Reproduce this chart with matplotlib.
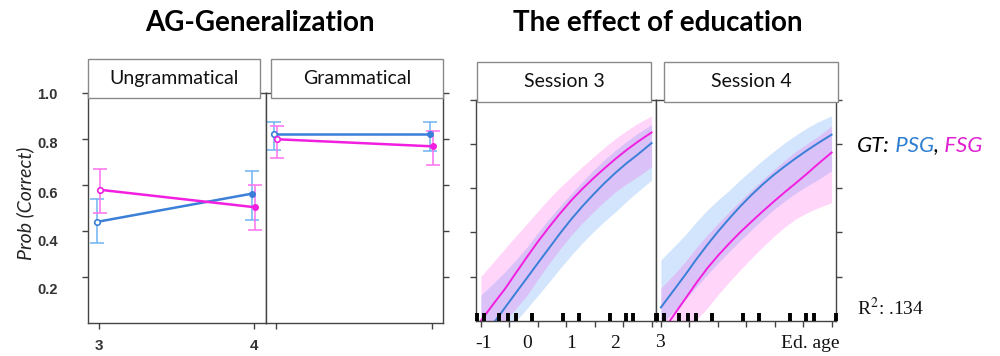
import numpy as np
import matplotlib.pyplot as plt
from matplotlib.patches import Rectangle
import matplotlib.transforms as mtransforms

plt.rcParams['mathtext.fontset'] = 'stix'

# AG-Generalization: predicted prob. correct per session (PSG = blue, FSG = magenta)
sessions = [3, 4]
ungr_psg = [0.44, 0.563]
ungr_psg_lo = [0.35, 0.45]
ungr_psg_hi = [0.54, 0.663]
ungr_fsg = [0.58, 0.504]
ungr_fsg_lo = [0.48, 0.405]
ungr_fsg_hi = [0.672, 0.602]
gram_psg = [0.824, 0.824]
gram_psg_lo = [0.751, 0.747]
gram_psg_hi = [0.877, 0.877]
gram_fsg = [0.80, 0.769]
gram_fsg_lo = [0.72, 0.688]
gram_fsg_hi = [0.857, 0.836]
prob_ticks = [0.2, 0.4, 0.6, 0.8, 1.0]
prob_labels = ['0.2', '0.4', '0.6', '0.8', '1.0']
prob_label_pos = [0.143, 0.354, 0.562, 0.78, 0.993]   # labels sit a bit off the ticks in the original

# effect of education, fitted curves + bands
edu = [-1.05, -0.75, -0.5, -0.25, 0, 0.25, 0.5, 0.75, 1.0, 1.25, 1.5, 1.75, 2.0, 2.25, 2.5, 2.82]
s3_psg = [-0.09, -0.008, 0.06, 0.128, 0.195, 0.263, 0.33, 0.397, 0.46, 0.518, 0.572, 0.623, 0.67, 0.713, 0.752, 0.805]
s3_psg_lo = [-0.25, -0.15, -0.06, 0.0, 0.056, 0.116, 0.176, 0.238, 0.297, 0.352, 0.403, 0.45, 0.493, 0.54, 0.584, 0.637]
s3_psg_hi = [0.116, 0.173, 0.222, 0.277, 0.335, 0.4, 0.463, 0.521, 0.576, 0.63, 0.682, 0.729, 0.772, 0.812, 0.848, 0.889]
s3_fsg = [0.0, 0.08, 0.145, 0.218, 0.29, 0.36, 0.425, 0.487, 0.545, 0.597, 0.645, 0.69, 0.733, 0.773, 0.81, 0.853]
s3_fsg_lo = [-0.12, -0.065, 0.0, 0.056, 0.116, 0.19, 0.26, 0.326, 0.388, 0.443, 0.493, 0.54, 0.584, 0.62, 0.652, 0.697]
s3_fsg_hi = [0.2, 0.27, 0.328, 0.385, 0.441, 0.498, 0.554, 0.605, 0.652, 0.698, 0.742, 0.785, 0.825, 0.861, 0.893, 0.928]
s4_psg = [0.06, 0.14, 0.207, 0.277, 0.343, 0.405, 0.463, 0.518, 0.569, 0.616, 0.659, 0.698, 0.735, 0.77, 0.803, 0.843]
s4_psg_lo = [-0.02, 0.043, 0.095, 0.152, 0.208, 0.262, 0.313, 0.363, 0.411, 0.458, 0.502, 0.541, 0.577, 0.609, 0.637, 0.679]
s4_psg_hi = [0.275, 0.336, 0.388, 0.447, 0.501, 0.548, 0.591, 0.638, 0.682, 0.726, 0.766, 0.805, 0.84, 0.872, 0.9, 0.928]
s4_fsg = [-0.06, 0.027, 0.098, 0.17, 0.237, 0.296, 0.35, 0.401, 0.448, 0.494, 0.538, 0.581, 0.622, 0.664, 0.708, 0.762]
s4_fsg_lo = [-0.2, -0.12, -0.05, 0.003, 0.056, 0.118, 0.176, 0.23, 0.282, 0.333, 0.38, 0.423, 0.46, 0.488, 0.51, 0.535]
s4_fsg_hi = [0.147, 0.21, 0.267, 0.33, 0.388, 0.442, 0.493, 0.543, 0.591, 0.638, 0.682, 0.725, 0.765, 0.8, 0.833, 0.882]
edu_rug = [-1.14, -0.99, -0.63, -0.44, -0.26, 0.1, 0.81, 1.17, 1.88, 2.24, 2.41, 2.93]
edu_ticks = [-1.05, -0.41, 0.24, 0.88, 1.53, 2.17, 2.82]
edu_label_pos = [-1, 0, 1, 2]
edu_labels = ['-1', '0', '1', '2']

BLUE = '#3a7fd8'
MAG = '#f21fe0'
BLUE_ERR = '#6fb3f2'
MAG_ERR = '#ff70f0'
SPINE = '#444444'
W, H = 1000, 356


def px_box(x0, y0, x1, y1):
    return [x0 / W, 1 - y1 / H, (x1 - x0) / W, (y1 - y0) / H]


fig = plt.figure(figsize=(10, 3.56), dpi=100)

ax_u = fig.add_axes(px_box(88, 93.3, 266, 323))
ax_g = fig.add_axes(px_box(266, 93.3, 443, 323))
ax_s3 = fig.add_axes(px_box(476, 100, 656, 320.7))
ax_s4 = fig.add_axes(px_box(656, 100, 836, 320.7))

for ax in [ax_u, ax_g, ax_s3, ax_s4]:
    for sp in ax.spines.values():
        sp.set_color(SPINE)
        sp.set_linewidth(1)
    ax.set_ylim(0, 1.0)
    ax.set_yticks(prob_ticks)
    ax.set_yticklabels([])
    ax.tick_params(which='both', direction='out', length=4.3, color=SPINE, width=1)


def group(ax, x, y, lo, hi, col, ecol, dx):
    xs = np.array(x) + dx
    y = np.array(y)
    err = [y - np.array(lo), np.array(hi) - y]
    ax.errorbar(xs, y, yerr=err, fmt='none', ecolor=ecol, capsize=5,
                elinewidth=1.1, capthick=1.1, zorder=2)
    ax.plot(xs, y, color=col, lw=1.8, zorder=3)
    ax.plot(xs[0], y[0], 'o', mfc='white', mec=col, ms=4, mew=1.2, zorder=4)
    ax.plot(xs[1], y[1], 'o', mfc=col, mec=col, ms=4, zorder=4)


group(ax_u, sessions, ungr_psg, ungr_psg_lo, ungr_psg_hi, BLUE, BLUE_ERR, -0.015)
group(ax_u, sessions, ungr_fsg, ungr_fsg_lo, ungr_fsg_hi, MAG, MAG_ERR, 0.005)
group(ax_g, sessions, gram_psg, gram_psg_lo, gram_psg_hi, BLUE, BLUE_ERR, -0.015)
group(ax_g, sessions, gram_fsg, gram_fsg_lo, gram_fsg_hi, MAG, MAG_ERR, 0.005)

ax_u.set_xlim(2.929, 4.077)
ax_g.set_xlim(2.936, 4.07)
for ax in [ax_u, ax_g]:
    ax.set_xticks(sessions)
ax_u.set_xticklabels([str(s) for s in sessions], fontsize=11, color='#333',
                     family='Liberation Sans', weight='bold')
ax_u.tick_params(axis='x', pad=7)
ax_g.set_xticklabels([])
ax_g.yaxis.tick_right()

tr = mtransforms.blended_transform_factory(ax_u.transAxes, ax_u.transData)
for pos, lab in zip(prob_label_pos, prob_labels):
    ax_u.text(-0.169, pos, lab, transform=tr, ha='right', va='center',
              fontsize=10.5, color='#333', family='Liberation Sans', weight='bold')

# education panels
for ax, psg, plo, phi, fsg, flo, fhi in [
        (ax_s3, s3_psg, s3_psg_lo, s3_psg_hi, s3_fsg, s3_fsg_lo, s3_fsg_hi),
        (ax_s4, s4_psg, s4_psg_lo, s4_psg_hi, s4_fsg, s4_fsg_lo, s4_fsg_hi)]:
    ax.fill_between(edu, plo, phi, color=(0.2, 0.55, 0.95), alpha=0.22, lw=0)
    ax.fill_between(edu, flo, fhi, color=(1.0, 0.2, 0.9), alpha=0.2, lw=0)
    ax.plot(edu, psg, color=BLUE, lw=1.4)
    ax.plot(edu, fsg, color=MAG, lw=1.4)
    ax.vlines(edu_rug, 0, 0.036, color='black', lw=2.8, zorder=5, clip_on=False)
    ax.set_xlim(-1.16, 2.92)
    ax.set_xticks(edu_ticks, minor=True)
    ax.tick_params(axis='x', which='major', length=0)

ax_s3.set_xticks(edu_label_pos)
ax_s3.set_xticklabels(edu_labels, fontsize=14, family='Liberation Serif', color='#111')
ax_s3.tick_params(axis='x', which='major', pad=10)
ax_s3.text(3, -0.1, '3', transform=mtransforms.blended_transform_factory(ax_s3.transData, ax_s3.transAxes),
           ha='center', va='center', fontsize=14, family='Liberation Serif', color='#111', clip_on=False)
ax_s4.set_xticks([])
ax_s4.yaxis.tick_right()

# strip headers
strips = [(88, 260, 59, 98, 'Ungrammatical'), (271, 443, 59, 98, 'Grammatical'),
          (477, 651, 62, 102, 'Session 3'), (664, 838, 62, 102, 'Session 4')]
for x0, x1, y0, y1, lab in strips:
    b = px_box(x0, y0, x1, y1)
    fig.add_artist(Rectangle((b[0], b[1]), b[2], b[3], transform=fig.transFigure,
                             facecolor='white', edgecolor='#8a8a8a', lw=1, zorder=5))
    fig.text(b[0] + b[2] / 2, b[1] + b[3] / 2, lab, ha='center', va='center',
             fontsize=14, family='Lato', color='#111', zorder=6)

# titles and labels
fig.text(260 / W, 1 - 23 / H, 'AG-Generalization', ha='center', va='center',
         fontsize=20, weight='bold', family='Lato')
fig.text(658 / W, 1 - 23 / H, 'The effect of education', ha='center', va='center',
         fontsize=20, weight='bold', family='Lato')
fig.text(25 / W, 1 - 203 / H, 'Prob (Correct)', rotation=90, ha='center', va='center',
         fontsize=14, style='italic', family='Lato', color='#222')
fig.text(810 / W, 1 - 343 / H, 'Ed. age', ha='center', va='center',
         fontsize=14, family='Liberation Serif', color='#111')
fig.text(857 / W, 1 - 308 / H, r'R$^2$: .134', ha='left', va='center',
         fontsize=14, family='Liberation Serif', color='#111')

t1 = fig.text(857 / W, 1 - 146 / H, 'GT:', ha='left', va='center',
              fontsize=16, style='italic', family='Lato', color='black')
t2 = ax_s4.annotate(' PSG', xy=(1, 0), xycoords=t1, ha='left', va='bottom',
                    fontsize=16, style='italic', family='Lato', color='#2f7fd0',
                    annotation_clip=False)
t3 = ax_s4.annotate(',', xy=(1, 0), xycoords=t2, ha='left', va='bottom',
                    fontsize=16, style='italic', family='Lato', color='black',
                    annotation_clip=False)
ax_s4.annotate(' FSG', xy=(1, 0), xycoords=t3, ha='left', va='bottom',
               fontsize=16, style='italic', family='Lato', color='#e020d0',
               annotation_clip=False)

fig.savefig('out.png', dpi=100)
